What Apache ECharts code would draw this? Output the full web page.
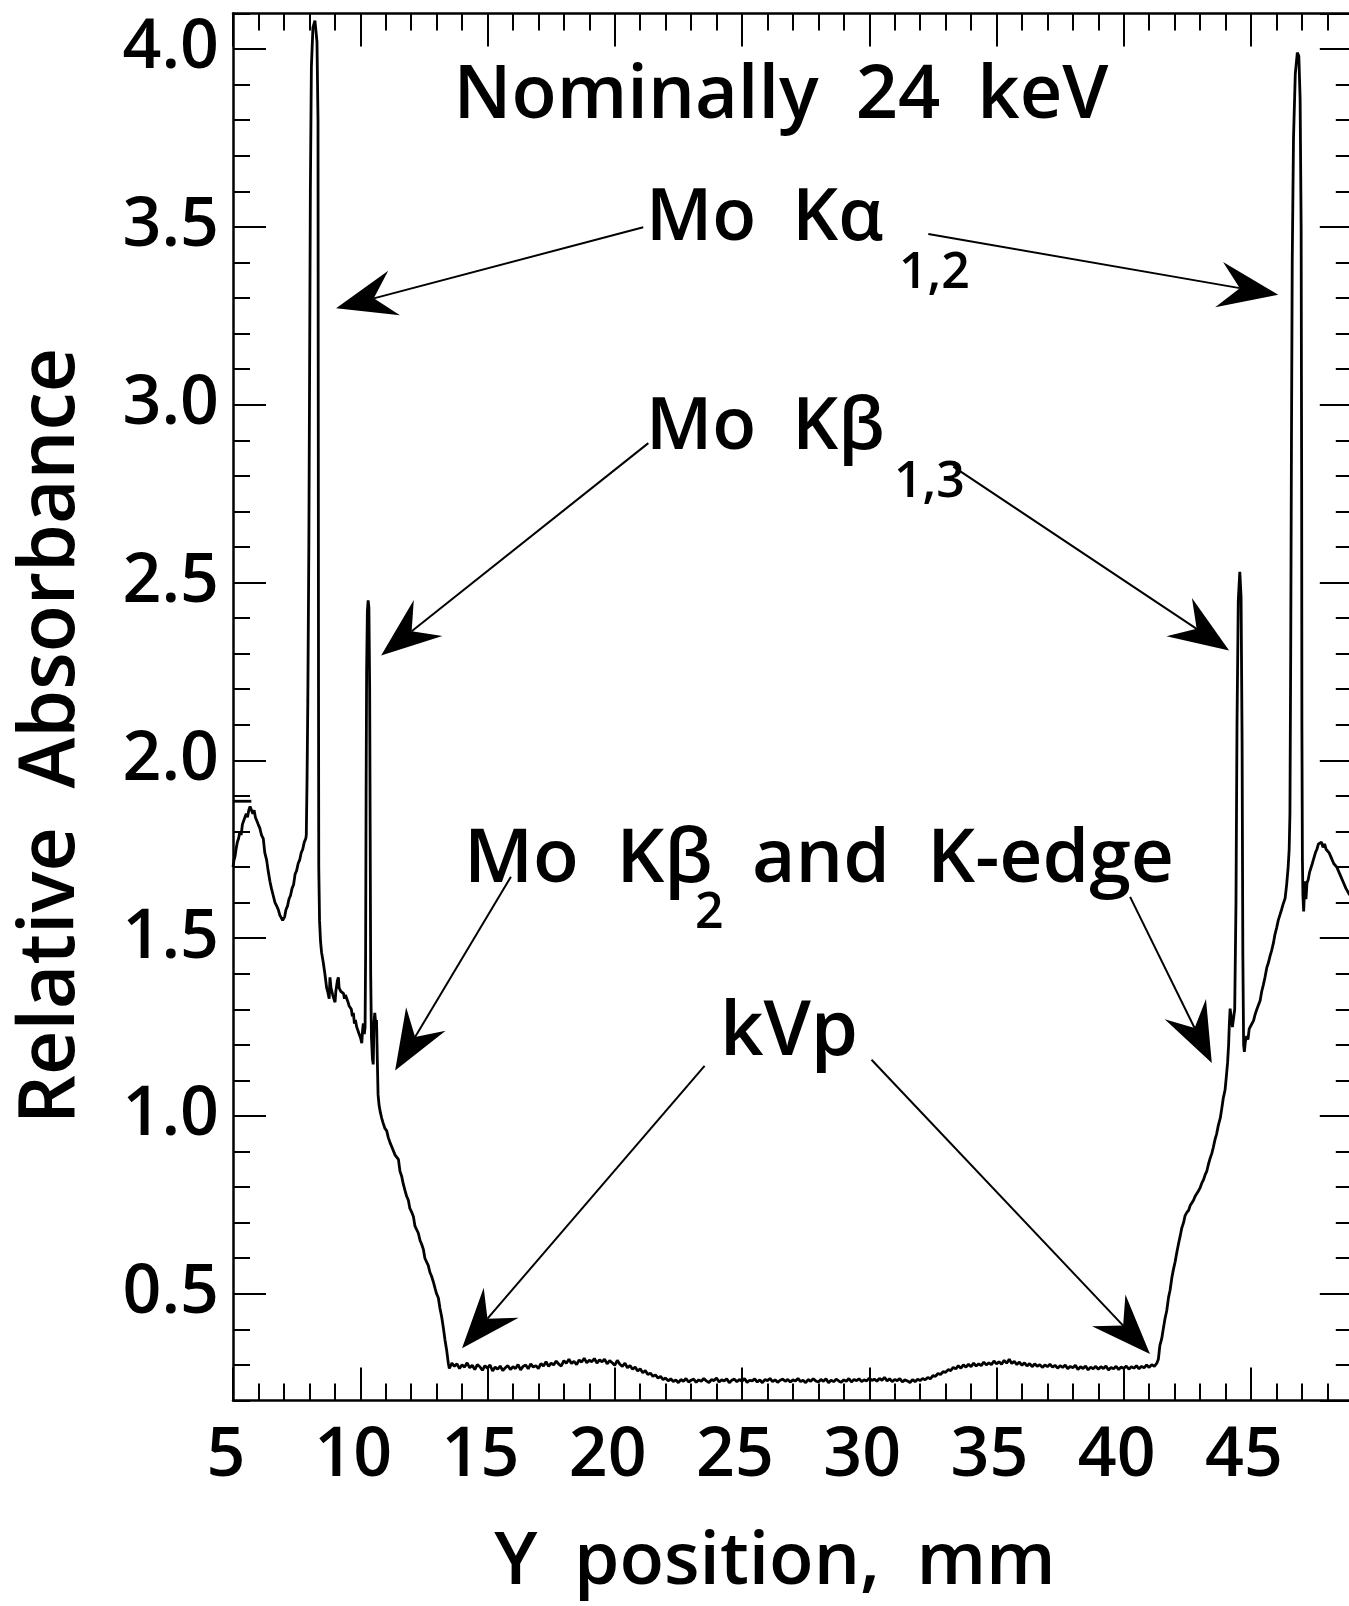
<!DOCTYPE html>
<html>
<head>
<meta charset="utf-8">
<title>Relative absorbance, nominally 24 keV</title>
<script src="https://cdn.jsdelivr.net/npm/echarts@6.0.0/dist/echarts.min.js"></script>
<style>
  html, body { margin: 0; padding: 0; background: #fff; }
  #chart { width: 1349px; height: 1606px; }
</style>
</head>
<body>
<div id="chart"></div>
<script>
  // trace, [Y position mm, relative absorbance]
  var leftShoulder = [[5.00,1.70],[5.04,1.72],[5.08,1.73],[5.12,1.75],[5.17,1.77],[5.22,1.78],[5.27,1.80],[5.32,1.79],[5.37,1.82],[5.42,1.83],[5.47,1.83],[5.52,1.85],[5.57,1.84],[5.62,1.86],[5.67,1.87],[5.73,1.865],[5.78,1.85],[5.83,1.86],[5.88,1.84],[5.93,1.84],[5.99,1.82],[6.05,1.81],[6.12,1.79],[6.19,1.78],[6.25,1.74],[6.32,1.72],[6.38,1.69],[6.45,1.66],[6.51,1.64],[6.58,1.62],[6.65,1.60],[6.72,1.59],[6.78,1.58],[6.84,1.565],[6.90,1.57],[6.95,1.55],[6.98,1.555],[7.03,1.56],[7.08,1.58],[7.14,1.59],[7.20,1.61],[7.26,1.62],[7.32,1.64],[7.38,1.65],[7.44,1.68],[7.50,1.69],[7.56,1.71],[7.62,1.72],[7.68,1.74],[7.74,1.75],[7.80,1.77],[7.86,1.78]];
  var kAlphaLeft = [[7.88,1.79],[7.91,1.95],[7.94,2.17],[7.98,2.60],[8.01,3.10],[8.04,3.60],[8.08,3.95],[8.14,4.06],[8.22,4.08],[8.30,4.02],[8.34,3.80],[8.35,3.00],[8.36,2.20],[8.37,1.70],[8.40,1.55],[8.44,1.49]];
  var kAlphaTailLeft = [[8.48,1.46],[8.55,1.43],[8.61,1.40],[8.68,1.36],[8.72,1.35],[8.75,1.355],[8.78,1.33],[8.81,1.39],[8.85,1.36],[8.88,1.355],[8.92,1.34],[8.96,1.33],[9.01,1.32],[9.04,1.35],[9.07,1.355],[9.10,1.38],[9.14,1.39],[9.17,1.36],[9.20,1.365],[9.24,1.35],[9.28,1.355],[9.34,1.345],[9.38,1.33],[9.42,1.34],[9.47,1.335],[9.52,1.32],[9.56,1.31],[9.60,1.31],[9.65,1.30],[9.69,1.28],[9.73,1.29],[9.77,1.26],[9.81,1.27],[9.86,1.25],[9.92,1.25],[9.96,1.23],[10.01,1.22],[10.06,1.205],[10.09,1.24],[10.12,1.26],[10.16,1.23],[10.19,1.25]];
  var kBetaLeft = [[10.21,1.45],[10.23,1.90],[10.25,2.25],[10.28,2.42],[10.31,2.45],[10.34,2.43],[10.37,2.20],[10.39,1.80],[10.41,1.40],[10.44,1.22],[10.48,1.16],[10.51,1.145],[10.54,1.26],[10.57,1.29],[10.61,1.26],[10.64,1.27],[10.67,1.16],[10.70,1.06],[10.74,1.03]];
  var edgeSlopeLeft = [[10.79,1.01],[10.84,0.995],[10.90,0.98],[10.97,0.965],[11.04,0.958],[11.10,0.94],[11.17,0.925],[11.23,0.915],[11.30,0.912],[11.37,0.89],[11.43,0.885],[11.50,0.878],[11.56,0.845],[11.63,0.83],[11.69,0.809],[11.76,0.79],[11.82,0.775],[11.89,0.763],[11.95,0.74],[12.02,0.73],[12.09,0.717],[12.15,0.69],[12.22,0.685],[12.28,0.671],[12.35,0.65],[12.41,0.64],[12.48,0.625],[12.54,0.60],[12.61,0.595],[12.67,0.58],[12.74,0.56],[12.80,0.55],[12.87,0.534],[12.94,0.515],[13.00,0.50],[13.07,0.488],[13.13,0.46],[13.20,0.435],[13.26,0.407],[13.33,0.37],[13.40,0.339],[13.46,0.305],[13.50,0.29]];
  var baseLeft = [[13.6,.305],[13.7,.296],[13.8,.303],[13.9,.290],[14.0,.300],[14.1,.294],[14.2,.306],[14.3,.292],[14.4,.299],[14.5,.287],
    [14.6,.301],[14.7,.295],[14.8,.285],[14.9,.298],[15.0,.291],[15.1,.300],[15.2,.283],[15.3,.294],[15.4,.288],[15.5,.297],
    [15.6,.284],[15.7,.292],[15.8,.298],[15.9,.287],[16.0,.295],[16.1,.290],[16.2,.301],[16.3,.286],[16.4,.296],[16.5,.300],
    [16.6,.289],[16.7,.303],[16.8,.294],[16.9,.298],[17.0,.290],[17.1,.304],[17.2,.297],[17.3,.309],[17.4,.296],[17.5,.305],
    [17.6,.300],[17.7,.311],[17.8,.302],[17.9,.297],[18.0,.312],[18.1,.305],[18.2,.316],[18.3,.304],[18.4,.310],[18.5,.301],
    [18.6,.314],[18.7,.308],[18.8,.319],[18.9,.306],[19.0,.313],[19.1,.309],[19.2,.318],[19.3,.305],[19.4,.314],[19.5,.309],
    [19.6,.316],[19.7,.303],[19.8,.312],[19.9,.306],[20.0,.299],[20.1,.313],[20.2,.302],[20.3,.296],[20.4,.305],[20.5,.292],
    [20.6,.298],[20.7,.288],[20.8,.294],[20.9,.283],[21.0,.289],[21.1,.278],[21.2,.284],[21.3,.273],[21.4,.277],[21.5,.268],
    [21.6,.272],[21.7,.263],[21.8,.268],[21.9,.259],[22.0,.263]];
  var baseMiddle = [[22.1,.255],[22.2,.261],[22.3,.253],[22.4,.258],[22.5,.250],[22.6,.259],[22.7,.254],[22.8,.262],[22.9,.252],[23.0,.257],
    [23.1,.260],[23.2,.251],[23.3,.258],[23.4,.254],[23.5,.262],[23.6,.255],[23.7,.250],[23.8,.259],[23.9,.256],[24.0,.263],
    [24.1,.252],[24.2,.258],[24.3,.255],[24.4,.261],[24.5,.250],[24.6,.257],[24.7,.260],[24.8,.253],[24.9,.259],[25.0,.254],
    [25.1,.262],[25.2,.251],[25.3,.257],[25.4,.255],[25.5,.261],[25.6,.252],[25.7,.258],[25.8,.250],[25.9,.259],[26.0,.256],
    [26.1,.262],[26.2,.253],[26.3,.258],[26.4,.251],[26.5,.257],[26.6,.260],[26.7,.254],[26.8,.259],[26.9,.252],[27.0,.258],
    [27.1,.255],[27.2,.262],[27.3,.253],[27.4,.257],[27.5,.250],[27.6,.259],[27.7,.254],[27.8,.261],[27.9,.255],[28.0,.252],
    [28.1,.259],[28.2,.254],[28.3,.261],[28.4,.250],[28.5,.257],[28.6,.253],[28.7,.260],[28.8,.255],[28.9,.251],[29.0,.258],
    [29.1,.254],[29.2,.262],[29.3,.252],[29.4,.259],[29.5,.256],[29.6,.261],[29.7,.253],[29.8,.258],[29.9,.255],[30.0,.263],
    [30.1,.256],[30.2,.260],[30.3,.254],[30.4,.262],[30.5,.257],[30.6,.265],[30.7,.255],[30.8,.261],[30.9,.253],[31.0,.259],
    [31.1,.256],[31.2,.262],[31.3,.252],[31.4,.258],[31.5,.255],[31.6,.250],[31.7,.259],[31.8,.253],[31.9,.260],[32.0,.256],
    [32.1,.262],[32.2,.258]];
  var baseRight = [[32.3,.265],[32.4,.261],[32.5,.270],[32.6,.268],[32.7,.276],[32.8,.273],[32.9,.281],[33.0,.279],[33.1,.287],[33.2,.284],
    [33.3,.293],[33.4,.289],[33.5,.298],[33.6,.291],[33.7,.300],[33.8,.294],[33.9,.302],[34.0,.295],[34.1,.305],[34.2,.297],
    [34.3,.303],[34.4,.298],[34.5,.308],[34.6,.300],[34.7,.306],[34.8,.301],[34.9,.311],[35.0,.303],[35.1,.309],[35.2,.302],
    [35.3,.313],[35.4,.305],[35.5,.316],[35.6,.304],[35.7,.310],[35.8,.301],[35.9,.308],[36.0,.299],[36.1,.306],[36.2,.297],
    [36.3,.304],[36.4,.295],[36.5,.303],[36.6,.296],[36.7,.301],[36.8,.293],[36.9,.300],[37.0,.295],[37.1,.302],[37.2,.294],
    [37.3,.299],[37.4,.291],[37.5,.298],[37.6,.293],[37.7,.300],[37.8,.289],[37.9,.296],[38.0,.292],[38.1,.299],[38.2,.287],
    [38.3,.295],[38.4,.290],[38.5,.297],[38.6,.286],[38.7,.294],[38.8,.289],[38.9,.296],[39.0,.288],[39.1,.295],[39.2,.290],
    [39.3,.297],[39.4,.286],[39.5,.293],[39.6,.289],[39.7,.296],[39.8,.287],[39.9,.294],[40.0,.290],[40.1,.297],[40.2,.288],
    [40.3,.295],[40.4,.291],[40.5,.298],[40.6,.289],[40.7,.296],[40.8,.292],[40.9,.300],[41.0,.293],[41.1,.301],[41.2,.296],
    [41.3,.305]];
  var edgeSlopeRight = [[41.36,0.316],[41.42,0.355],[41.49,0.373],[41.55,0.40],[41.62,0.43],[41.69,0.453],[41.76,0.49],[41.82,0.51],[41.89,0.545],[41.95,0.568],[42.02,0.59],[42.08,0.615],[42.15,0.64],[42.21,0.660],[42.28,0.685],[42.35,0.70],[42.41,0.72],[42.48,0.729],[42.55,0.735],[42.61,0.748],[42.68,0.752],[42.74,0.763],[42.81,0.775],[42.87,0.78],[42.94,0.79],[43.00,0.798],[43.07,0.812],[43.13,0.82],[43.20,0.835],[43.26,0.844],[43.33,0.865],[43.39,0.88],[43.46,0.895],[43.52,0.912],[43.59,0.935],[43.65,0.95],[43.72,0.975],[43.79,0.993],[43.85,1.02],[43.91,1.05],[43.98,1.073],[44.03,1.11],[44.08,1.15],[44.12,1.20],[44.15,1.26],[44.18,1.302],[44.22,1.30],[44.27,1.25],[44.31,1.245],[44.36,1.30]];
  var kBetaRight = [[44.41,1.60],[44.45,2.10],[44.50,2.45],[44.56,2.53],[44.61,2.46],[44.65,2.05],[44.68,1.45],[44.71,1.20],[44.74,1.18],[44.78,1.21],[44.83,1.225],[44.88,1.215],[44.93,1.245],[44.98,1.24],[45.04,1.26],[45.10,1.268],[45.16,1.285],[45.23,1.30],[45.29,1.305],[45.36,1.325],[45.42,1.35],[45.49,1.37],[45.55,1.39],[45.62,1.417],[45.68,1.43],[45.75,1.45],[45.81,1.465],[45.88,1.486],[45.94,1.51],[46.01,1.53],[46.07,1.55],[46.14,1.566],[46.20,1.58],[46.26,1.595],[46.34,1.612],[46.40,1.65],[46.46,1.70],[46.50,1.75]];
  var kAlphaRight = [[46.53,1.85],[46.56,2.30],[46.59,2.90],[46.62,3.40],[46.67,3.75],[46.74,3.93],[46.82,3.99],[46.88,3.98],[46.93,3.86],[46.97,3.50],[46.99,2.80],[47.00,2.10],[47.02,1.72],[47.04,1.62],[47.07,1.575],[47.10,1.63],[47.13,1.66],[47.16,1.61],[47.20,1.655],[47.25,1.665],[47.30,1.685],[47.35,1.69],[47.41,1.71],[47.47,1.725],[47.53,1.74],[47.59,1.75],[47.65,1.765],[47.71,1.76],[47.77,1.77],[47.83,1.755],[47.89,1.765],[47.95,1.75],[48.01,1.745],[48.07,1.74],[48.13,1.73],[48.19,1.725],[48.25,1.71],[48.31,1.715],[48.37,1.70],[48.43,1.69],[48.49,1.68],[48.55,1.675],[48.61,1.66],[48.67,1.655],[48.73,1.64],[48.79,1.635],[48.85,1.625],[48.92,1.62],[48.99,1.61]];
  // short flat stretch at the top left (saturated start of the scan)
  var flatStart = [[5.00,1.885],[5.72,1.885]];

  // annotation arrows: tail x, tail y, tip x, tip y (data units)
  var arrowLines = [
    [21.12, 3.499, 9.05, 3.271],
    [32.32, 3.48, 46.07, 3.309],
    [21.32, 2.892, 10.82, 2.295],
    [33.30, 2.826, 44.14, 2.309],
    [15.92, 1.673, 11.37, 1.128],
    [40.25, 1.616, 43.46, 1.149],
    [23.53, 1.141, 14.00, 0.347],
    [30.09, 1.158, 41.03, 0.331]
  ];

  var xMin = 5, xMax = 49, yMin = 0.2, yMax = 4.1;
  var FONT = '"Open Sans", "DejaVu Sans", sans-serif';
  var WEIGHT = 600;
  var SP = '\u2002';

  var trace = [].concat(leftShoulder, kAlphaLeft, kAlphaTailLeft, kBetaLeft, edgeSlopeLeft,
    baseLeft, baseMiddle, baseRight, edgeSlopeRight, kBetaRight, kAlphaRight);

  function xAx(pos, interval, len, labels, line) {
    return {
      type: 'value', position: pos, min: xMin, max: xMax, interval: interval,
      axisLine: { show: line, onZero: false, lineStyle: { color: '#000', width: 2.5 } },
      axisTick: { show: true, inside: true, length: len, lineStyle: { color: '#000', width: 2 } },
      axisLabel: labels ? {
        show: true, margin: 22, fontSize: 68, fontFamily: FONT, fontWeight: WEIGHT, color: '#000',
        showMaxLabel: false, padding: [0, 14, 0, 0]
      } : { show: false },
      splitLine: { show: false }
    };
  }
  function yAx(pos, interval, len, labels, line) {
    var a = {
      type: 'value', position: pos, min: yMin, max: yMax,
      axisLine: { show: line, onZero: false, lineStyle: { color: '#000', width: 2.5 } },
      axisTick: { show: true, inside: true, length: len, lineStyle: { color: '#000', width: 2 } },
      axisLabel: labels ? {
        show: true, margin: 14, fontSize: 68, fontFamily: FONT, fontWeight: WEIGHT, color: '#000',
        showMinLabel: false, showMaxLabel: false,
        formatter: function (v) { return v.toFixed(1); }
      } : { show: false },
      splitLine: { show: false }
    };
    if (interval) { a.interval = interval; } else { a.splitNumber = 8; }
    return a;
  }

  var option = {
    animation: false,
    backgroundColor: '#fff',
    grid: { left: 233, top: 13.5, right: -3.8, bottom: 205.5, outerBoundsMode: 'none' },
    xAxis: [
      xAx('bottom', 5, 33, true, true),
      xAx('bottom', 1, 17, false, false),
      xAx('top', 5, 33, false, true),
      xAx('top', 1, 17, false, false)
    ],
    yAxis: [
      yAx('left', null, 33, true, true),
      yAx('left', 0.1, 17, false, false),
      yAx('right', null, 33, false, true),
      yAx('right', 0.1, 17, false, false)
    ],
    series: [
      {
        type: 'line', data: trace, xAxisIndex: 0, yAxisIndex: 0,
        showSymbol: false, symbol: 'none', clip: true,
        lineStyle: { color: '#000', width: 2.8 }
      },
      {
        type: 'line', data: flatStart, xAxisIndex: 0, yAxisIndex: 0,
        showSymbol: false, symbol: 'none',
        lineStyle: { color: '#000', width: 2.8 }
      }
    ]
  };

  var chart = echarts.init(document.getElementById('chart'));
  chart.setOption(option);

  function txt(text, x, y, size, align, rot) {
    return {
      type: 'text', x: x, y: y, rotation: rot || 0, z: 10,
      style: {
        text: text, fill: '#000', fontSize: size, fontFamily: FONT, fontWeight: WEIGHT,
        align: align || 'left', verticalAlign: 'middle'
      }
    };
  }

  var graphics = [
    txt('Nominally' + SP + '24' + SP + 'keV', 781, 97, 74, 'center'),
    txt('Mo' + SP + 'K\u03b1', 646, 219, 72),
    txt('1,2', 899, 274, 50),
    txt('Mo' + SP + 'K\u03b2', 646, 428, 72),
    txt('1,3', 894, 483, 50),
    txt('Mo' + SP + 'K\u03b2', 464, 861, 75),
    txt('2', 695, 914, 50),
    txt('and' + SP + 'K-edge', 752, 861, 75),
    txt('kVp', 789, 1033, 76, 'center'),
    txt('Relative' + SP + 'Absorbance', 52, 736, 77, 'center', Math.PI / 2),
    txt('Y' + SP + 'position,' + SP + 'mm', 775, 1563, 73, 'center')
  ];

  arrowLines.forEach(function (a) {
    var p0 = chart.convertToPixel({ seriesIndex: 0 }, [a[0], a[1]]);
    var p1 = chart.convertToPixel({ seriesIndex: 0 }, [a[2], a[3]]);
    var dx = p1[0] - p0[0], dy = p1[1] - p0[1];
    var len = Math.sqrt(dx * dx + dy * dy);
    var ux = dx / len, uy = dy / len, nx = -uy, ny = ux;
    var notch = [p1[0] - 39 * ux, p1[1] - 39 * uy];
    var c1 = [p1[0] - 60 * ux + 23 * nx, p1[1] - 60 * uy + 23 * ny];
    var c2 = [p1[0] - 60 * ux - 23 * nx, p1[1] - 60 * uy - 23 * ny];
    graphics.push({
      type: 'line', z: 9,
      shape: { x1: p0[0], y1: p0[1], x2: notch[0], y2: notch[1] },
      style: { stroke: '#000', lineWidth: 2 }
    });
    graphics.push({
      type: 'polygon', z: 9,
      shape: { points: [p1, c1, notch, c2] },
      style: { fill: '#000' }
    });
  });

  chart.setOption({ graphic: graphics });
</script>
</body>
</html>
